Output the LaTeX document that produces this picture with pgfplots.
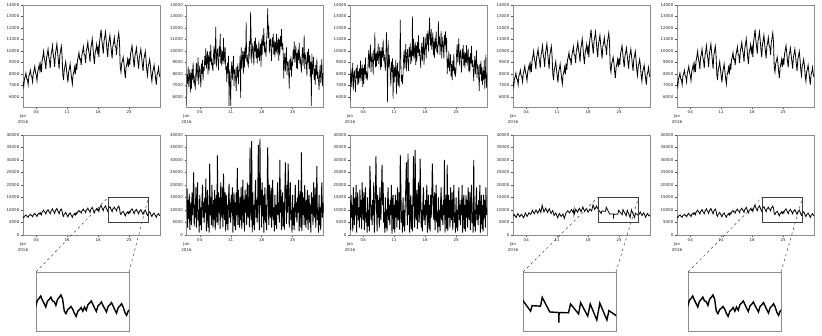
\documentclass[border=0pt]{standalone}
\usepackage{fontspec}
\setmainfont{DejaVu Sans}
\usepackage{pgfplots}
\pgfplotsset{compat=1.18}
\usepackage{pgfplotstable}

% base series (4-hourly), used for the smooth panels
\pgfplotstableread[row sep=\\]{
y\\
7300\\ 6900\\ 7550\\ 7750\\ 8050\\ 7550\\
7500\\ 7050\\ 7800\\ 8000\\ 8300\\ 7850\\
7750\\ 7300\\ 8050\\ 8300\\ 8650\\ 8100\\
7900\\ 7400\\ 8200\\ 8450\\ 8800\\ 8250\\
8800\\ 8150\\ 9200\\ 9500\\ 9950\\ 9300\\
9000\\ 8400\\ 9400\\ 9700\\ 10150\\ 9450\\
9150\\ 8500\\ 9600\\ 9950\\ 10450\\ 9700\\
9300\\ 8600\\ 9750\\ 10150\\ 10600\\ 9850\\
9150\\ 8450\\ 9600\\ 10000\\ 10400\\ 9650\\
8000\\ 7450\\ 8350\\ 8650\\ 9050\\ 8400\\
7800\\ 7250\\ 8150\\ 8450\\ 8850\\ 8200\\
7600\\ 7100\\ 7900\\ 8150\\ 8550\\ 7950\\
8900\\ 8350\\ 9200\\ 9450\\ 9850\\ 9250\\
9300\\ 8750\\ 9650\\ 9950\\ 10350\\ 9700\\
9600\\ 8950\\ 10000\\ 10300\\ 10750\\ 10050\\
9750\\ 9050\\ 10200\\ 10550\\ 11050\\ 10300\\
9450\\ 8850\\ 9850\\ 10100\\ 10550\\ 9900\\
10300\\ 9450\\ 10800\\ 11300\\ 11850\\ 10950\\
10400\\ 9750\\ 10850\\ 11200\\ 11650\\ 10900\\
10100\\ 9450\\ 10550\\ 10900\\ 11350\\ 10600\\
10000\\ 9350\\ 10400\\ 10700\\ 11150\\ 10450\\
10350\\ 9650\\ 10750\\ 11100\\ 11550\\ 10800\\
8600\\ 8150\\ 8900\\ 9100\\ 9450\\ 8950\\
8200\\ 7650\\ 8550\\ 8850\\ 9250\\ 8600\\
9350\\ 8750\\ 9750\\ 10050\\ 10450\\ 9800\\
9150\\ 8550\\ 9550\\ 9850\\ 10250\\ 9600\\
9050\\ 8450\\ 9450\\ 9750\\ 10150\\ 9500\\
8850\\ 8250\\ 9250\\ 9550\\ 9950\\ 9300\\
8350\\ 7850\\ 8650\\ 8900\\ 9250\\ 8700\\
7850\\ 7350\\ 8150\\ 8400\\ 8750\\ 8200\\
7600\\ 7050\\ 7900\\ 8150\\ 8550\\ 7950\\
7700\\
}\base

% noisy series, top row, column 2 (3-hourly)
\pgfplotstableread[row sep=\\]{
y\\
5300\\ 7950\\ 7150\\ 8650\\ 6850\\ 7650\\ 8350\\ 6350\\
8100\\ 6700\\ 8400\\ 7500\\ 9000\\ 7200\\ 7800\\ 7000\\
6750\\ 8250\\ 8950\\ 7350\\ 8350\\ 9450\\ 7050\\ 8150\\
8700\\ 7700\\ 6800\\ 8900\\ 8000\\ 9200\\ 7400\\ 8600\\
8250\\ 9550\\ 8750\\ 10250\\ 8450\\ 9250\\ 9950\\ 7950\\
9650\\ 8250\\ 9950\\ 9050\\ 10550\\ 8750\\ 9350\\ 8550\\
8250\\ 9750\\ 10450\\ 8850\\ 9850\\ 12100\\ 8550\\ 9650\\
10200\\ 9200\\ 8300\\ 10400\\ 9500\\ 11500\\ 8900\\ 10100\\
8650\\ 9950\\ 9150\\ 11100\\ 8850\\ 9650\\ 10350\\ 8350\\
8650\\ 7250\\ 8950\\ 8050\\ 9550\\ 5200\\ 8350\\ 7550\\
5200\\ 8350\\ 9050\\ 7450\\ 8450\\ 9550\\ 6950\\ 8250\\
8400\\ 7400\\ 6500\\ 8600\\ 7700\\ 8900\\ 7100\\ 8300\\
8300\\ 9600\\ 5900\\ 10300\\ 8500\\ 9300\\ 10000\\ 8000\\
9950\\ 8550\\ 10250\\ 9350\\ 12500\\ 9050\\ 9650\\ 8850\\
8650\\ 10150\\ 10850\\ 9250\\ 13400\\ 11350\\ 8950\\ 10050\\
10650\\ 9650\\ 8750\\ 10850\\ 9950\\ 11150\\ 9350\\ 10550\\
8900\\ 10200\\ 9400\\ 10900\\ 9100\\ 9900\\ 10600\\ 8600\\
11050\\ 9650\\ 11350\\ 10450\\ 12000\\ 9850\\ 10750\\ 9950\\
9500\\ 11000\\ 11700\\ 13700\\ 11100\\ 12200\\ 9800\\ 10900\\
11000\\ 10000\\ 9100\\ 11200\\ 10300\\ 11500\\ 9700\\ 10900\\
9450\\ 10750\\ 9950\\ 11450\\ 9650\\ 10450\\ 11150\\ 9150\\
11000\\ 9600\\ 11300\\ 10400\\ 11900\\ 10100\\ 10700\\ 9900\\
7600\\ 9100\\ 9800\\ 8200\\ 9200\\ 10300\\ 7900\\ 9000\\
9050\\ 8050\\ 6700\\ 9250\\ 8350\\ 9550\\ 7750\\ 8950\\
8800\\ 10100\\ 9300\\ 10800\\ 9000\\ 9800\\ 10500\\ 8500\\
9800\\ 8400\\ 10100\\ 9200\\ 10700\\ 8900\\ 9500\\ 8700\\
8100\\ 9600\\ 10300\\ 8700\\ 9700\\ 11400\\ 8400\\ 9500\\
9700\\ 8700\\ 7800\\ 9900\\ 9000\\ 10200\\ 8400\\ 9600\\
7750\\ 9050\\ 5200\\ 9750\\ 7950\\ 8750\\ 9450\\ 7450\\
8450\\ 7050\\ 8750\\ 7850\\ 9350\\ 7550\\ 8150\\ 7350\\
6600\\ 8100\\ 8800\\ 7200\\ 8200\\ 9300\\ 6900\\ 8000\\
8000\\
}\noisyA

% noisy series, top row, column 3 (3-hourly)
\pgfplotstableread[row sep=\\]{
y\\
5600\\ 7750\\ 8450\\ 6850\\ 7850\\ 8950\\ 6550\\ 7650\\
8300\\ 7300\\ 6400\\ 8500\\ 7600\\ 8800\\ 7000\\ 8200\\
7150\\ 8450\\ 7650\\ 9150\\ 7350\\ 8150\\ 8850\\ 6850\\
8500\\ 7100\\ 8800\\ 7900\\ 9400\\ 7600\\ 8200\\ 7400\\
7850\\ 9350\\ 10050\\ 8450\\ 9450\\ 10550\\ 8150\\ 9250\\
9850\\ 8850\\ 7950\\ 10050\\ 9150\\ 11600\\ 8550\\ 9750\\
8650\\ 9950\\ 9150\\ 10650\\ 8850\\ 9650\\ 10350\\ 8350\\
10000\\ 8600\\ 10300\\ 9400\\ 11000\\ 9100\\ 9700\\ 8900\\
8250\\ 9750\\ 11600\\ 8850\\ 5500\\ 10950\\ 8550\\ 9650\\
8850\\ 7850\\ 6950\\ 9050\\ 8150\\ 9350\\ 5800\\ 8750\\
7250\\ 8550\\ 7750\\ 9250\\ 6200\\ 8250\\ 8950\\ 6950\\
8200\\ 6800\\ 8500\\ 12700\\ 9100\\ 7300\\ 7900\\ 7100\\
7900\\ 9400\\ 10100\\ 8500\\ 9500\\ 10600\\ 8200\\ 9300\\
10150\\ 9150\\ 8250\\ 10350\\ 9450\\ 10650\\ 8850\\ 10050\\
9050\\ 13000\\ 9550\\ 11050\\ 9250\\ 10050\\ 10750\\ 8750\\
10450\\ 9050\\ 10750\\ 9850\\ 11350\\ 9550\\ 10150\\ 9350\\
8500\\ 10000\\ 10700\\ 9100\\ 10100\\ 11200\\ 8800\\ 9900\\
11250\\ 10250\\ 9350\\ 11450\\ 10550\\ 11750\\ 9950\\ 11150\\
12900\\ 11200\\ 10400\\ 11900\\ 10100\\ 10900\\ 11600\\ 9600\\
10800\\ 9400\\ 11100\\ 10200\\ 11700\\ 9900\\ 10500\\ 9700\\
12600\\ 10550\\ 11250\\ 9650\\ 10650\\ 11750\\ 9350\\ 10450\\
11200\\ 10200\\ 9300\\ 11400\\ 10500\\ 11700\\ 9900\\ 11100\\
8000\\ 9300\\ 8500\\ 10000\\ 8200\\ 9000\\ 9700\\ 7700\\
8850\\ 7450\\ 9150\\ 8250\\ 9750\\ 7950\\ 8550\\ 7750\\
8400\\ 9900\\ 10600\\ 9000\\ 10000\\ 11100\\ 8700\\ 9800\\
10000\\ 9000\\ 8100\\ 10200\\ 9300\\ 10500\\ 8700\\ 9900\\
8500\\ 9800\\ 9000\\ 10500\\ 8700\\ 9500\\ 10200\\ 8200\\
9500\\ 8100\\ 9800\\ 8900\\ 10400\\ 8600\\ 9200\\ 8400\\
7350\\ 8850\\ 9550\\ 7950\\ 8950\\ 10050\\ 7650\\ 8750\\
8650\\ 7650\\ 6500\\ 8850\\ 7950\\ 9150\\ 7350\\ 8550\\
7000\\ 8300\\ 7500\\ 9200\\ 6700\\ 7900\\ 9700\\ 6800\\
7900\\
}\noisyB

% noisy series, bottom row, column 2 (3-hourly)
\pgfplotstableread[row sep=\\]{
y\\
9000\\ 18500\\ 3000\\ 14000\\ 6500\\ 16500\\ 2000\\ 11000\\
13000\\ 4000\\ 17000\\ 8000\\ 15000\\ 25000\\ 3500\\ 12000\\
7000\\ 19000\\ 3000\\ 13000\\ 21000\\ 6000\\ 10000\\ 1000\\
16000\\ 4000\\ 11000\\ 2000\\ 14000\\ 20000\\ 7000\\ 13000\\
5000\\ 15000\\ 9000\\ 22500\\ 1500\\ 12000\\ 18000\\ 3000\\
12000\\ 1000\\ 28500\\ 8000\\ 15000\\ 4000\\ 20000\\ 9000\\
3000\\ 14000\\ 6000\\ 18000\\ 2000\\ 11000\\ 16000\\ 5000\\
31800\\ 4000\\ 17000\\ 9000\\ 15000\\ 2500\\ 21000\\ 10000\\
7000\\ 19000\\ 3000\\ 24500\\ 13000\\ 6000\\ 17000\\ 1500\\
16000\\ 4500\\ 12000\\ 2000\\ 14000\\ 20500\\ 7000\\ 13000\\
5000\\ 16000\\ 9000\\ 19000\\ 1000\\ 12000\\ 17000\\ 3500\\
13000\\ 2000\\ 17000\\ 8000\\ 26800\\ 4000\\ 18000\\ 10000\\
3000\\ 15000\\ 6000\\ 19000\\ 2500\\ 12000\\ 22000\\ 5000\\
14000\\ 1500\\ 18000\\ 9000\\ 16000\\ 4000\\ 21000\\ 9500\\
7000\\ 20000\\ 3000\\ 35000\\ 14000\\ 6000\\ 37500\\ 1000\\
17000\\ 4000\\ 12000\\ 2000\\ 15000\\ 22000\\ 7000\\ 14000\\
5000\\ 16000\\ 36000\\ 10000\\ 2000\\ 38500\\ 12000\\ 18000\\
3000\\ 21000\\ 7500\\ 16000\\ 1000\\ 13000\\ 19000\\ 5000\\
12000\\ 2000\\ 17000\\ 35000\\ 15000\\ 4000\\ 20000\\ 9000\\
7000\\ 19000\\ 3000\\ 14000\\ 22000\\ 6000\\ 11000\\ 1500\\
16000\\ 4000\\ 12000\\ 2500\\ 15000\\ 21000\\ 8000\\ 13000\\
5000\\ 30000\\ 9000\\ 18000\\ 2000\\ 12000\\ 17000\\ 3500\\
13000\\ 2000\\ 17000\\ 29000\\ 15000\\ 4500\\ 20000\\ 9000\\
28500\\ 18500\\ 3000\\ 13000\\ 21000\\ 6000\\ 10000\\ 1000\\
16000\\ 4000\\ 11000\\ 2000\\ 14000\\ 20000\\ 7000\\ 13000\\
5000\\ 15000\\ 9000\\ 22000\\ 1500\\ 12000\\ 17500\\ 3000\\
33000\\ 1500\\ 17000\\ 8000\\ 15000\\ 4000\\ 20000\\ 9000\\
3000\\ 14000\\ 6000\\ 18000\\ 2000\\ 11000\\ 16000\\ 5000\\
12000\\ 1000\\ 17000\\ 8500\\ 15000\\ 4000\\ 21000\\ 9000\\
7000\\ 19000\\ 3000\\ 13000\\ 27500\\ 6000\\ 10000\\ 1000\\
16000\\ 4000\\ 11000\\ 2000\\ 14000\\ 21000\\ 7000\\ 13000\\
9000\\
}\wildA

% noisy series, bottom row, column 3 (3-hourly)
\pgfplotstableread[row sep=\\]{
y\\
14000\\ 2000\\ 16000\\ 7000\\ 12000\\ 1500\\ 19000\\ 9000\\
4000\\ 15000\\ 8000\\ 20000\\ 1000\\ 13000\\ 17000\\ 6000\\
11000\\ 3000\\ 18000\\ 7000\\ 14000\\ 2500\\ 21000\\ 10000\\
6000\\ 17000\\ 2000\\ 12000\\ 19000\\ 5000\\ 9000\\ 1000\\
15000\\ 3500\\ 10000\\ 1500\\ 27500\\ 20000\\ 6000\\ 12000\\
4000\\ 14000\\ 8000\\ 21000\\ 1000\\ 11000\\ 16000\\ 31500\\
12000\\ 1500\\ 16000\\ 7000\\ 14000\\ 3000\\ 19000\\ 8000\\
6000\\ 18000\\ 28000\\ 12000\\ 21000\\ 5000\\ 9000\\ 1000\\
15000\\ 3000\\ 10000\\ 1500\\ 13000\\ 19000\\ 6000\\ 12000\\
4000\\ 14000\\ 8000\\ 20000\\ 500\\ 11000\\ 16000\\ 2500\\
12000\\ 1000\\ 16000\\ 7000\\ 14000\\ 3000\\ 19000\\ 8500\\
6000\\ 17000\\ 2000\\ 32000\\ 20000\\ 5000\\ 9500\\ 1000\\
15000\\ 3500\\ 10000\\ 1500\\ 13000\\ 19000\\ 29000\\ 12000\\
4000\\ 32500\\ 8000\\ 21000\\ 1000\\ 11000\\ 16000\\ 2500\\
12000\\ 1500\\ 16000\\ 31500\\ 14000\\ 3000\\ 34000\\ 8000\\
6000\\ 18000\\ 2500\\ 12000\\ 21000\\ 5000\\ 9000\\ 30500\\
15000\\ 3000\\ 10000\\ 1500\\ 13000\\ 19000\\ 6000\\ 12000\\
4000\\ 14000\\ 8000\\ 20000\\ 1000\\ 11000\\ 16000\\ 2500\\
12000\\ 1500\\ 16000\\ 7000\\ 14000\\ 28500\\ 19000\\ 8000\\
6000\\ 17000\\ 2000\\ 12000\\ 20000\\ 5000\\ 9000\\ 1000\\
15000\\ 3500\\ 10000\\ 1500\\ 13000\\ 19000\\ 6000\\ 12000\\
4000\\ 14000\\ 8000\\ 30000\\ 1000\\ 11000\\ 16000\\ 2500\\
28000\\ 1500\\ 16000\\ 7000\\ 14000\\ 3000\\ 19000\\ 8000\\
6000\\ 17000\\ 2000\\ 12000\\ 20000\\ 5000\\ 9000\\ 1000\\
15000\\ 3000\\ 10000\\ 1500\\ 13000\\ 19000\\ 6000\\ 12000\\
4000\\ 14000\\ 8000\\ 20000\\ 1000\\ 11000\\ 16000\\ 2500\\
12000\\ 1500\\ 16000\\ 7000\\ 14000\\ 3000\\ 19000\\ 8000\\
6000\\ 17000\\ 2000\\ 12000\\ 20000\\ 5000\\ 9000\\ 1000\\
30000\\ 3500\\ 10000\\ 1500\\ 13000\\ 19000\\ 6000\\ 12000\\
4000\\ 14000\\ 8000\\ 20000\\ 1000\\ 11000\\ 16000\\ 2500\\
12000\\ 1500\\ 16000\\ 7000\\ 14000\\ 3000\\ 19000\\ 8000\\
10000\\
}\wildB

% sparse series, bottom row, column 4 (days since 1 Jan)
\pgfplotstableread{
x y
0.0 7400
0.3 8200
0.7 7000
1.1 8600
1.5 7300
1.9 8300
2.4 6900
2.8 8800
3.2 7400
3.6 8900
4.0 8200
4.4 9800
4.8 8500
5.2 10000
5.6 8700
6.0 10300
6.3 9000
6.6 11900
7.0 9200
7.4 10700
7.8 9000
8.2 10500
8.6 8600
9.0 9800
9.3 7800
9.7 8800
10.1 6900
10.5 8600
10.9 7400
11.3 8400
11.6 6600
12.0 8900
12.4 9700
12.8 8800
13.2 10200
13.6 9000
13.8 10400
13.8 8000
14.2 10300
14.6 9100
15.0 10700
15.4 9300
15.8 11200
16.2 9400
16.6 10600
17.0 9100
17.4 10400
17.8 9600
18.1 12000
18.5 10200
18.9 11600
19.2 10500
19.95 8600
20.1 9600
20.93 9500
21.1 11100
21.85 8450
22.75 8350
22.75 6500
22.77 8350
23.7 8300
23.9 9900
24.7 8100
24.9 10150
25.6 7700
25.85 9900
26.5 7000
26.8 10050
27.5 7000
27.7 8700
28.4 7800
28.8 9200
29.2 7800
29.6 8900
30.0 7100
30.4 8600
30.8 7600
31.0 8000
}\sparse

\tikzset{
  zoombox/.style={black!75, line width=0.5pt},
  link/.style={black!75, line width=0.5pt, dash pattern=on 2.5pt off 3pt},
}
\pgfplotsset{
  ts/.style={
    scale only axis, width=137pt, xmin=0, xmax=31,
    xtick={3,10,17,24}, xticklabels={04,11,18,25},
    minor xtick={0,1,...,31},
    axis line style={black!45, line width=0.4pt},
    every tick/.style={black!70, line width=0.3pt},
    major tick length=2pt, minor tick length=1pt,
    tick align=outside, xtick pos=bottom, ytick pos=left,
    tick label style={font=\fontsize{4}{4.5}\selectfont, text=black!85},
    /pgf/number format/assume math mode=true,
    /pgf/number format/1000 sep={},
    scaled y ticks=false,
    xticklabel style={inner sep=1.5pt},
    yticklabel style={inner sep=1.5pt},
    after end axis/.code={
      \node[anchor=north, yshift=-7pt, inner sep=0pt, align=center,
            font=\fontsize{4}{6.5}\selectfont, text=black!85]
            at (rel axis cs:0,0) {Jan\\2016};
    },
  },
  top/.style={ts, height=102pt, ymin=5100, ymax=14000,
    ytick={6000,7000,...,14000}},
  bot/.style={ts, height=100pt, ymin=0, ymax=40000,
    ytick={0,5000,...,40000}},
  ins/.style={scale only axis, width=93pt, height=59pt,
    xmin=19.2, xmax=28.4, ymin=5000, ymax=15700,
    xtick=\empty, ytick=\empty,
    axis line style={black!45, line width=0.5pt}},
  smooth line/.style={black, line width=0.8pt, mark=none},
  noisy line/.style={black, line width=0.6pt, mark=none},
  wild line/.style={black, line width=0.9pt, mark=none},
}

\begin{document}
\begin{tikzpicture}
\useasboundingbox (0,0) rectangle (822pt,336pt);

% ---- top row ----
\begin{axis}[top, at={(23pt,229pt)}, anchor=south west]
\addplot[smooth line] table[x expr=\coordindex/6, y=y]{\base};
\end{axis}
\begin{axis}[top, at={(186.5pt,229pt)}, anchor=south west]
\addplot[noisy line] table[x expr=\coordindex/8, y=y]{\noisyA};
\end{axis}
\begin{axis}[top, at={(350pt,229pt)}, anchor=south west]
\addplot[noisy line] table[x expr=\coordindex/8, y=y]{\noisyB};
\end{axis}
\begin{axis}[top, at={(513pt,229pt)}, anchor=south west]
\addplot[smooth line] table[x expr=\coordindex/6, y=y]{\base};
\end{axis}
\begin{axis}[top, at={(677pt,229pt)}, anchor=south west]
\addplot[smooth line] table[x expr=\coordindex/6, y=y]{\base};
\end{axis}

% ---- bottom row ----
\begin{axis}[bot, at={(23pt,101pt)}, anchor=south west]
\addplot[smooth line] table[x expr=\coordindex/6, y=y]{\base};
\draw[zoombox] (axis cs:19.2,5000) rectangle (axis cs:28.4,15000);
\coordinate (a1) at (axis cs:19.2,15000);
\coordinate (b1) at (axis cs:28.4,15000);
\end{axis}
\begin{axis}[bot, at={(186.5pt,101pt)}, anchor=south west]
\addplot[wild line] table[x expr=\coordindex/8, y=y]{\wildA};
\end{axis}
\begin{axis}[bot, at={(350pt,101pt)}, anchor=south west]
\addplot[wild line] table[x expr=\coordindex/8, y=y]{\wildB};
\end{axis}
\begin{axis}[bot, at={(513pt,101pt)}, anchor=south west]
\addplot[smooth line] table[x=x, y=y]{\sparse};
\draw[zoombox] (axis cs:19.2,5000) rectangle (axis cs:28.4,15000);
\coordinate (a4) at (axis cs:19.2,15000);
\coordinate (b4) at (axis cs:28.4,15000);
\end{axis}
\begin{axis}[bot, at={(677pt,101pt)}, anchor=south west]
\addplot[smooth line] table[x expr=\coordindex/6, y=y]{\base};
\draw[zoombox] (axis cs:19.2,5000) rectangle (axis cs:28.4,15000);
\coordinate (a5) at (axis cs:19.2,15000);
\coordinate (b5) at (axis cs:28.4,15000);
\end{axis}

% ---- insets ----
\begin{axis}[ins, name=in1, at={(36pt,5pt)}, anchor=south west]
\addplot[black, line width=1.4pt] table[x expr=\coordindex/6, y=y]{\base};
\end{axis}
\begin{axis}[ins, name=in4, at={(523pt,5pt)}, anchor=south west]
\addplot[black, line width=1.4pt] table[x=x, y=y]{\sparse};
\end{axis}
\begin{axis}[ins, name=in5, at={(688pt,5pt)}, anchor=south west]
\addplot[black, line width=1.4pt] table[x expr=\coordindex/6, y=y]{\base};
\end{axis}

\draw[link] (in1.north west) -- (a1);
\draw[link] (in1.north east) -- (b1);
\draw[link] (in4.north west) -- (a4);
\draw[link] (in4.north east) -- (b4);
\draw[link] (in5.north west) -- (a5);
\draw[link] (in5.north east) -- (b5);
\end{tikzpicture}
\end{document}
